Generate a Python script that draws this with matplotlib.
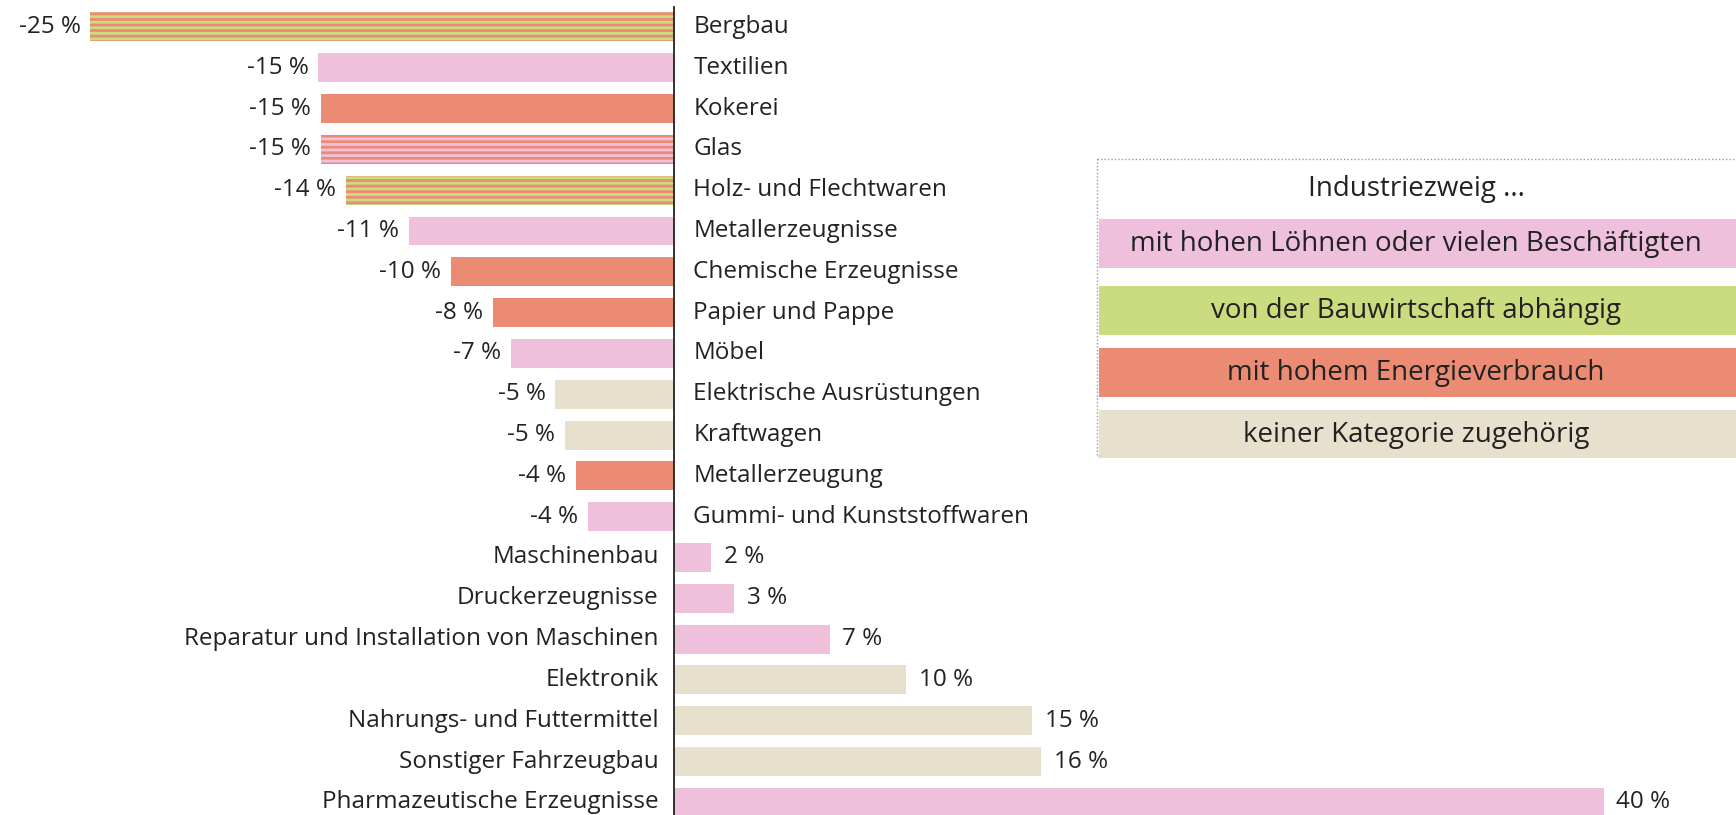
import matplotlib.pyplot as plt
from matplotlib.patches import Rectangle

plt.rcParams['font.family'] = ['Open Sans', 'DejaVu Sans']
plt.rcParams['hatch.linewidth'] = 2.0

PINK = '#eec0dc'
GREEN = '#cbdc80'
SALMON = '#ec8b74'
BEIGE = '#e6e0cd'
TXT = '#222222'

# data
branchen = ['Bergbau', 'Textilien', 'Kokerei', 'Glas', 'Holz- und Flechtwaren',
            'Metallerzeugnisse', 'Chemische Erzeugnisse', 'Papier und Pappe', 'Möbel',
            'Elektrische Ausrüstungen', 'Kraftwagen', 'Metallerzeugung',
            'Gummi- und Kunststoffwaren', 'Maschinenbau', 'Druckerzeugnisse',
            'Reparatur und Installation von Maschinen', 'Elektronik',
            'Nahrungs- und Futtermittel', 'Sonstiger Fahrzeugbau',
            'Pharmazeutische Erzeugnisse']
werte = [-25.1, -15.3, -15.2, -15.2, -14.1, -11.4, -9.6, -7.8, -7.0, -5.1, -4.7,
         -4.2, -3.7, 1.6, 2.6, 6.7, 10.0, 15.4, 15.8, 40.0]
# first / second category (second one drawn as stripes)
farbe1 = [GREEN, PINK, SALMON, PINK, GREEN, PINK, SALMON, SALMON, PINK, BEIGE, BEIGE,
          SALMON, PINK, PINK, PINK, PINK, BEIGE, BEIGE, BEIGE, PINK]
farbe2 = [SALMON, None, None, SALMON, SALMON, None, None, None, None, None, None,
          None, None, None, None, None, None, None, None, None]

legende_titel = 'Industriezweig ...'
legende_text = ['mit hohen Löhnen oder vielen Beschäftigten',
                'von der Bauwirtschaft abhängig',
                'mit hohem Energieverbrauch',
                'keiner Kategorie zugehörig']
legende_farben = [PINK, GREEN, SALMON, BEIGE]

fig = plt.figure(figsize=(17.36, 8.15), dpi=100)
ax = fig.add_axes([0, 0, 1, 1])
ax.set_xlim(-28.99, 45.68)
ax.set_ylim(19.31, -0.66)
ax.axis('off')

pos = list(range(len(branchen)))
ax.barh(pos, werte, height=0.71, color=farbe1, linewidth=0)
for i, (v, c2) in enumerate(zip(werte, farbe2)):
    if c2 is not None:
        ax.barh(i, v, height=0.71, facecolor='none', edgecolor=c2, linewidth=0,
                hatch='---')

ax.plot([0, 0], [-0.49, 19.31], color='#222222', lw=1.3)

fs = 17.5
for i, (name, v) in enumerate(zip(branchen, werte)):
    lab = f'{round(v)} %'
    if v < 0:
        ax.annotate(name, (0, i), xytext=(14, 0), textcoords='offset points',
                    ha='left', va='center', fontsize=fs, color=TXT)
        ax.annotate(lab, (v, i), xytext=(-7, 0), textcoords='offset points',
                    ha='right', va='center', fontsize=fs, color=TXT)
    else:
        ax.annotate(name, (0, i), xytext=(-11, 0), textcoords='offset points',
                    ha='right', va='center', fontsize=fs, color=TXT)
        ax.annotate(lab, (v, i), xytext=(9, 0), textcoords='offset points',
                    ha='left', va='center', fontsize=fs, color=TXT)

# legend box
lax = fig.add_axes([1096 / 1736, (815 - 458) / 815, 640 / 1736, 300 / 815])
lax.set_xlim(0, 640)
lax.set_ylim(300, 0)
lax.axis('off')
lax.add_patch(Rectangle((1, 1), 660, 297, facecolor='white', edgecolor='#999999',
                        linestyle=(0, (1, 1.5)), lw=1))
lax.text(320, 31, legende_titel, ha='center', va='center', fontsize=20, color=TXT)
tops = [61, 128, 190, 252]
for t, txt, c in zip(tops, legende_text, legende_farben):
    lax.add_patch(Rectangle((3, t), 640, 49, facecolor=c, lw=0))
    lax.text(320, t + 25, txt, ha='center', va='center', fontsize=20, color=TXT)

fig.savefig('out.png', dpi=100)
